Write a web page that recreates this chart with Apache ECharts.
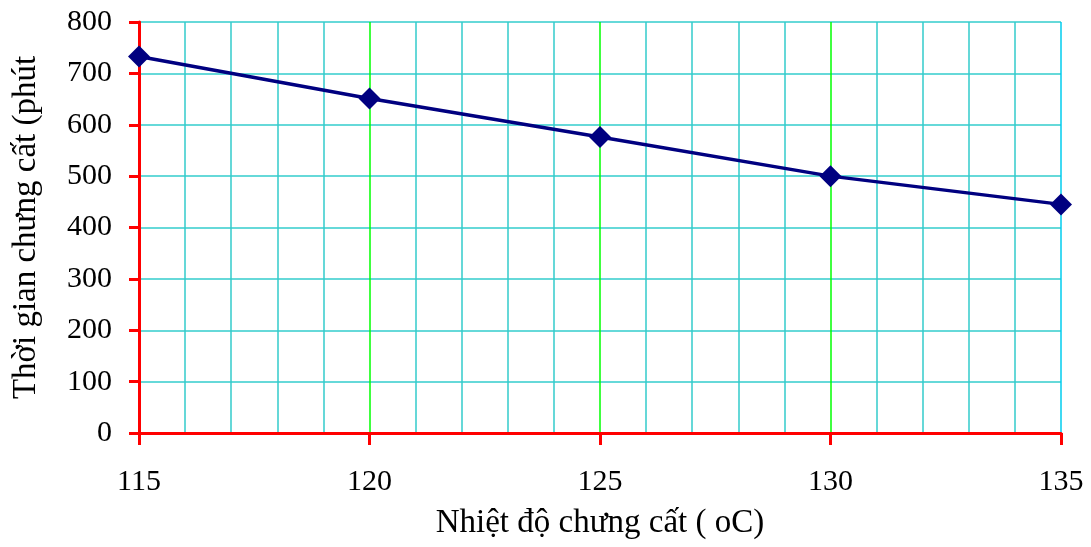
<!DOCTYPE html>
<html><head><meta charset="utf-8">
<script src="https://cdn.jsdelivr.net/npm/echarts@6/dist/echarts.min.js"></script>
<style>html,body{margin:0;padding:0;background:#fff}#c{width:1091px;height:547px}</style>
</head><body><div id="c"></div>
<script>
const temperatures = [115, 120, 125, 130, 135];
const times = [733, 651, 576, 500, 445];
const xTitle = 'Nhiệt độ chưng cất ( oC)';
const yTitle = 'Thời gian chưng cất (phút';

const font = 'Liberation Serif, Times New Roman, serif';
const cyan = '#33cccc';
const chart = echarts.init(document.getElementById('c'));
chart.setOption({
  animation: false,
  grid: {left: 139, right: 30, top: 22, bottom: 114, show: false},
  xAxis: {
    type: 'value', min: 115, max: 135, interval: 5,
    name: xTitle, nameLocation: 'middle', nameGap: 74,
    nameTextStyle: {fontFamily: font, fontSize: 33, color: '#000'},
    axisLine: {lineStyle: {color: '#ff0000', width: 3}},
    axisTick: {show: true, inside: false, length: 12, lineStyle: {color: '#ff0000', width: 3}},
    axisLabel: {fontFamily: font, fontSize: 30, color: '#000', margin: 34},
    splitLine: {show: true, lineStyle: {color: ['#00ff00','#00ff00','#00ff00','#00ff00','#00ccee'], width: 1.5}},
    minorTick: {show: false, splitNumber: 5},
    minorSplitLine: {show: true, lineStyle: {color: cyan, width: 1.5}}
  },
  yAxis: {
    type: 'value', min: 0, max: 800, interval: 100,
    name: yTitle, nameLocation: 'middle', nameGap: 96,
    nameTextStyle: {fontFamily: font, fontSize: 33, color: '#000'},
    axisLine: {show: true, lineStyle: {color: '#ff0000', width: 3}},
    axisTick: {show: true, inside: false, length: 10, lineStyle: {color: '#ff0000', width: 3}},
    axisLabel: {fontFamily: font, fontSize: 30, color: '#000', margin: 27},
    splitLine: {show: true, lineStyle: {color: cyan, width: 1.5}}
  },
  series: [{
    type: 'line',
    data: temperatures.map((t, i) => [t, times[i]]),
    symbol: 'diamond', symbolSize: 22,
    lineStyle: {color: '#000080', width: 3.5},
    itemStyle: {color: '#000080'},
    z: 5
  }]
});
</script></body></html>
